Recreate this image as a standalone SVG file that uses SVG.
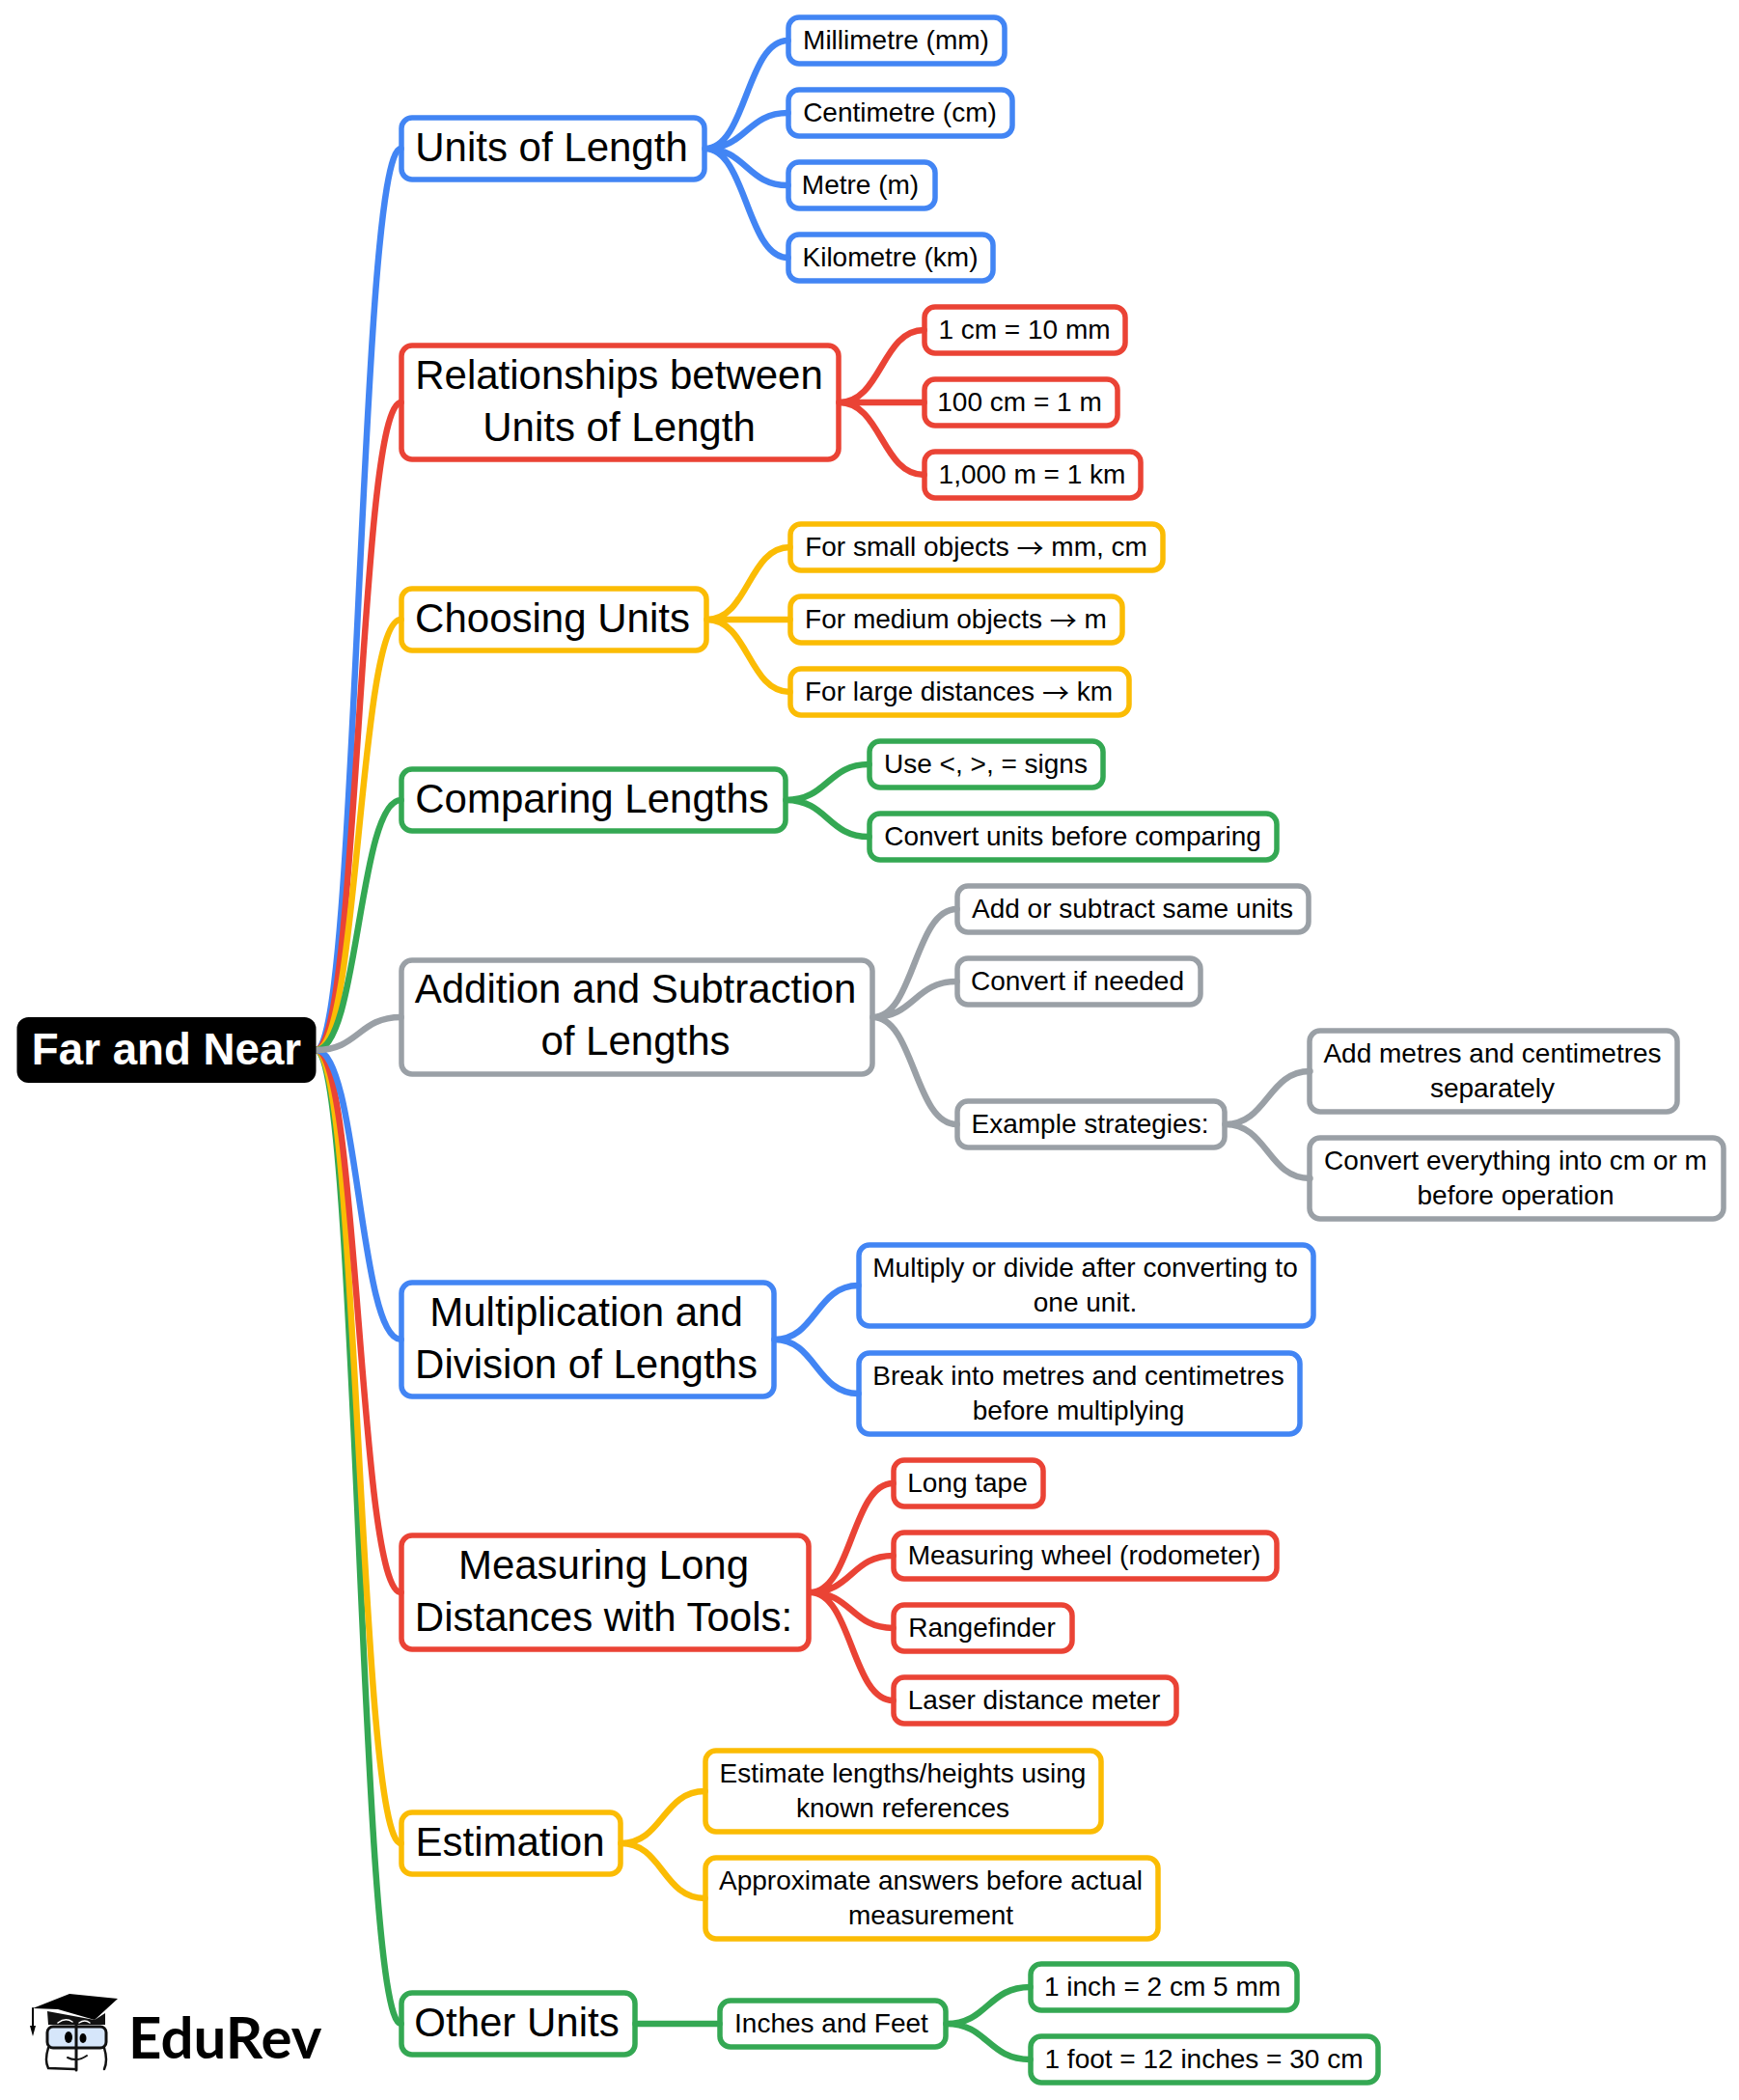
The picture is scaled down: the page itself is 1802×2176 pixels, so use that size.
<svg xmlns="http://www.w3.org/2000/svg" width="1802" height="2176" viewBox="0 0 1802 2176">
<style>
text{font-family:"Liberation Sans",Arial,sans-serif;fill:#000;text-anchor:middle;transform:translateY(-1.5px)}
tspan{font-family:"Noto Sans CJK SC","DejaVu Sans",sans-serif;baseline-shift:-3px}
.a{font-size:42px}.b{font-size:28px}
.r{font-size:45.7px;font-weight:700;fill:#fff}
rect{fill:#fff;stroke-width:5.5}
path{fill:none;stroke-width:6.5;stroke-linecap:round}
.B rect{stroke:#4285f4}.R rect{stroke:#ea4335}.Y rect{stroke:#fbbc04}.G rect{stroke:#34a853}.K rect{stroke:#9aa0a6}
path.B{stroke:#4285f4}path.R{stroke:#ea4335}path.Y{stroke:#fbbc04}path.G{stroke:#34a853}path.K{stroke:#9aa0a6}
</style>
<rect width="1802" height="2176" style="fill:#fff;stroke:none"/>
<g transform="translate(-1.5,0)">
<g id="units" class="B"><rect x="417.5" y="122" width="314" height="64" rx="11"/><text class="a" x="573" y="168">Units of Length</text></g>
<g id="units-mm" class="B"><rect x="818.5" y="18" width="224" height="48" rx="11"/><text class="b" x="930" y="52">Millimetre (mm)</text></g>
<g id="units-cm" class="B"><rect x="818.5" y="93" width="232" height="48" rx="11"/><text class="b" x="934" y="127">Centimetre (cm)</text></g>
<g id="units-m" class="B"><rect x="818.5" y="168" width="152" height="48" rx="11"/><text class="b" x="893" y="202">Metre (m)</text></g>
<g id="units-km" class="B"><rect x="818.5" y="243" width="212" height="48" rx="11"/><text class="b" x="924" y="277">Kilometre (km)</text></g>
<g id="rel" class="R"><rect x="417.5" y="358" width="453" height="118" rx="11"/><text class="a" x="643" y="404">Relationships between</text><text class="a" x="643" y="458">Units of Length</text></g>
<g id="rel-1" class="R"><rect x="959.5" y="318" width="208" height="48" rx="11"/><text class="b" x="1063" y="352">1 cm = 10 mm</text></g>
<g id="rel-2" class="R"><rect x="959.5" y="393" width="200" height="48" rx="11"/><text class="b" x="1058" y="427">100 cm = 1 m</text></g>
<g id="rel-3" class="R"><rect x="959.5" y="468" width="224" height="48" rx="11"/><text class="b" x="1071" y="502">1,000 m = 1 km</text></g>
<g id="choose" class="Y"><rect x="417.5" y="610" width="316" height="64" rx="11"/><text class="a" x="574" y="656">Choosing Units</text></g>
<g id="choose-1" class="Y"><rect x="820.5" y="543" width="386" height="48" rx="11"/><text class="b" x="1013" y="577">For small objects <tspan>→</tspan> mm, cm</text></g>
<g id="choose-2" class="Y"><rect x="820.5" y="618" width="344" height="48" rx="11"/><text class="b" x="992" y="652">For medium objects <tspan>→</tspan> m</text></g>
<g id="choose-3" class="Y"><rect x="820.5" y="693" width="351" height="48" rx="11"/><text class="b" x="995" y="727">For large distances <tspan>→</tspan> km</text></g>
<g id="compare" class="G"><rect x="417.5" y="797" width="398" height="64" rx="11"/><text class="a" x="615" y="843">Comparing Lengths</text></g>
<g id="compare-1" class="G"><rect x="902.5" y="768" width="242" height="48" rx="11"/><text class="b" x="1023" y="802">Use &lt;, &gt;, = signs</text></g>
<g id="compare-2" class="G"><rect x="902.5" y="843" width="422" height="48" rx="11"/><text class="b" x="1113" y="877">Convert units before comparing</text></g>
<g id="add" class="K"><rect x="417.5" y="995" width="488" height="118" rx="11"/><text class="a" x="660" y="1040">Addition and Subtraction</text><text class="a" x="660" y="1094">of Lengths</text></g>
<g id="add-1" class="K"><rect x="993.5" y="918" width="364" height="48" rx="11"/><text class="b" x="1175" y="952">Add or subtract same units</text></g>
<g id="add-2" class="K"><rect x="993.5" y="993" width="252" height="48" rx="11"/><text class="b" x="1118" y="1027">Convert if needed</text></g>
<g id="add-3" class="K"><rect x="993.5" y="1141" width="277" height="48" rx="11"/><text class="b" x="1131" y="1175">Example strategies:</text></g>
<g id="add-3a" class="K"><rect x="1358.5" y="1068" width="381" height="84" rx="11"/><text class="b" x="1548" y="1102">Add metres and centimetres</text><text class="b" x="1548" y="1138">separately</text></g>
<g id="add-3b" class="K"><rect x="1358.5" y="1179" width="429" height="84" rx="11"/><text class="b" x="1572" y="1213">Convert everything into cm or m</text><text class="b" x="1572" y="1249">before operation</text></g>
<g id="mult" class="B"><rect x="417.5" y="1329" width="386" height="118" rx="11"/><text class="a" x="609" y="1375">Multiplication and</text><text class="a" x="609" y="1429">Division of Lengths</text></g>
<g id="mult-1" class="B"><rect x="891.5" y="1290" width="471" height="84" rx="11"/><text class="b" x="1126" y="1324">Multiply or divide after converting to</text><text class="b" x="1126" y="1360">one unit.</text></g>
<g id="mult-2" class="B"><rect x="891.5" y="1402" width="457" height="84" rx="11"/><text class="b" x="1119" y="1436">Break into metres and centimetres</text><text class="b" x="1119" y="1472">before multiplying</text></g>
<g id="tools" class="R"><rect x="417.5" y="1591" width="422" height="118" rx="11"/><text class="a" x="627" y="1637">Measuring Long</text><text class="a" x="627" y="1691">Distances with Tools:</text></g>
<g id="tools-1" class="R"><rect x="927.5" y="1513" width="155" height="48" rx="11"/><text class="b" x="1004" y="1547">Long tape</text></g>
<g id="tools-2" class="R"><rect x="927.5" y="1588" width="397" height="48" rx="11"/><text class="b" x="1125" y="1622">Measuring wheel (rodometer)</text></g>
<g id="tools-3" class="R"><rect x="927.5" y="1663" width="185" height="48" rx="11"/><text class="b" x="1019" y="1697">Rangefinder</text></g>
<g id="tools-4" class="R"><rect x="927.5" y="1738" width="293" height="48" rx="11"/><text class="b" x="1073" y="1772">Laser distance meter</text></g>
<g id="est" class="Y"><rect x="417.5" y="1878" width="227" height="64" rx="11"/><text class="a" x="530" y="1924">Estimation</text></g>
<g id="est-1" class="Y"><rect x="732.5" y="1814" width="410" height="84" rx="11"/><text class="b" x="937" y="1848">Estimate lengths/heights using</text><text class="b" x="937" y="1884">known references</text></g>
<g id="est-2" class="Y"><rect x="732.5" y="1925" width="469" height="84" rx="11"/><text class="b" x="966" y="1959">Approximate answers before actual</text><text class="b" x="966" y="1995">measurement</text></g>
<g id="other" class="G"><rect x="417.5" y="2065" width="242" height="64" rx="11"/><text class="a" x="537" y="2111">Other Units</text></g>
<g id="inches" class="G"><rect x="747.5" y="2073" width="234" height="48" rx="11"/><text class="b" x="863" y="2107">Inches and Feet</text></g>
<g id="inch" class="G"><rect x="1069.5" y="2035" width="276" height="48" rx="11"/><text class="b" x="1206" y="2069">1 inch = 2 cm 5 mm</text></g>
<g id="foot" class="G"><rect x="1069.5" y="2110" width="360" height="48" rx="11"/><text class="b" x="1249" y="2144">1 foot = 12 inches = 30 cm</text></g>
</g>
<g id="connectors" transform="translate(-0.5,0)">
<path class="G" d="M328,1088C372,1088 372,2097 416,2097"/>
<path class="Y" d="M328,1088C372,1088 372,1910 416,1910"/>
<path class="R" d="M328,1088C372,1088 372,1650 416,1650"/>
<path class="B" d="M328,1088C372,1088 372,1388 416,1388"/>
<path class="B" d="M328,1088C372,1088 372,154 416,154"/>
<path class="R" d="M328,1088C372,1088 372,417 416,417"/>
<path class="Y" d="M328,1088C372,1088 372,642 416,642"/>
<path class="G" d="M328,1088C372,1088 372,829 416,829"/>
<path class="K" d="M328,1088C372,1088 372,1054 416,1054"/>
<path class="B" d="M731,154C774,154 774,42 817,42M731,154C774,154 774,117 817,117M731,154C774,154 774,192 817,192M731,154C774,154 774,267 817,267"/>
<path class="R" d="M870,417C914,417 914,342 958,342M870,417H958M870,417C914,417 914,492 958,492"/>
<path class="Y" d="M733,642C776,642 776,567 819,567M733,642H819M733,642C776,642 776,717 819,717"/>
<path class="G" d="M815,829C858,829 858,792 901,792M815,829C858,829 858,867 901,867"/>
<path class="K" d="M905,1054C948,1054 948,942 992,942M905,1054C948,1054 948,1017 992,1017M905,1054C948,1054 948,1165 992,1165M1270,1165C1314,1165 1314,1110 1358,1110M1270,1165C1314,1165 1314,1221 1358,1221"/>
<path class="B" d="M803,1388C846,1388 846,1332 890,1332M803,1388C846,1388 846,1444 890,1444"/>
<path class="R" d="M840,1650C883,1650 883,1537 926,1537M840,1650C883,1650 883,1612 926,1612M840,1650C883,1650 883,1687 926,1687M840,1650C883,1650 883,1762 926,1762"/>
<path class="Y" d="M644,1910C687,1910 687,1856 731,1856M644,1910C687,1910 687,1967 731,1967"/>
<path class="G" d="M659,2097H746M981,2097C1024,2097 1024,2059 1068,2059M981,2097C1024,2097 1024,2134 1068,2134"/>
</g>
<g id="root"><rect x="17.5" y="1054" width="310" height="68" rx="12" style="fill:#000;stroke:none"/><text class="r" x="172.5" y="1104">Far and Near</text></g>
<g id="logo">
<path d="M49,2084L50,2098H109V2086L98,2093Z" style="fill:#111;stroke:none"/>
<path d="M34,2081L72,2066L122,2071L98,2093L60,2082Z" style="fill:#000;stroke:none"/>
<path d="M34,2081V2100" style="stroke:#000;stroke-width:2"/>
<path d="M31,2099H37L34,2110Z" style="fill:#000;stroke:none"/>
<path d="M60,2096Q68,2090 75,2095M82,2096Q88,2092 93,2096" style="stroke:#fff;stroke-width:1.5"/>
<rect x="49" y="2100" width="61" height="22" rx="6" style="fill:#d6e6fa;stroke:#111;stroke-width:3"/>
<ellipse cx="71" cy="2111" rx="4" ry="6"/>
<ellipse cx="86" cy="2112" rx="3.5" ry="5"/>
<path d="M79,2098V2145" style="stroke:#111;stroke-width:3"/>
<path d="M50,2122Q46,2135 50,2143L77,2144M108,2122Q112,2135 108,2144" style="stroke:#111;stroke-width:2.5"/>
<path d="M70,2132Q80,2137 90,2130" style="stroke:#111;stroke-width:2"/>
<text x="133" y="2134" style="font-family:Lato,'Liberation Sans',sans-serif;font-size:60px;font-weight:700;text-anchor:start">EduRev</text>
</g>
</svg>
